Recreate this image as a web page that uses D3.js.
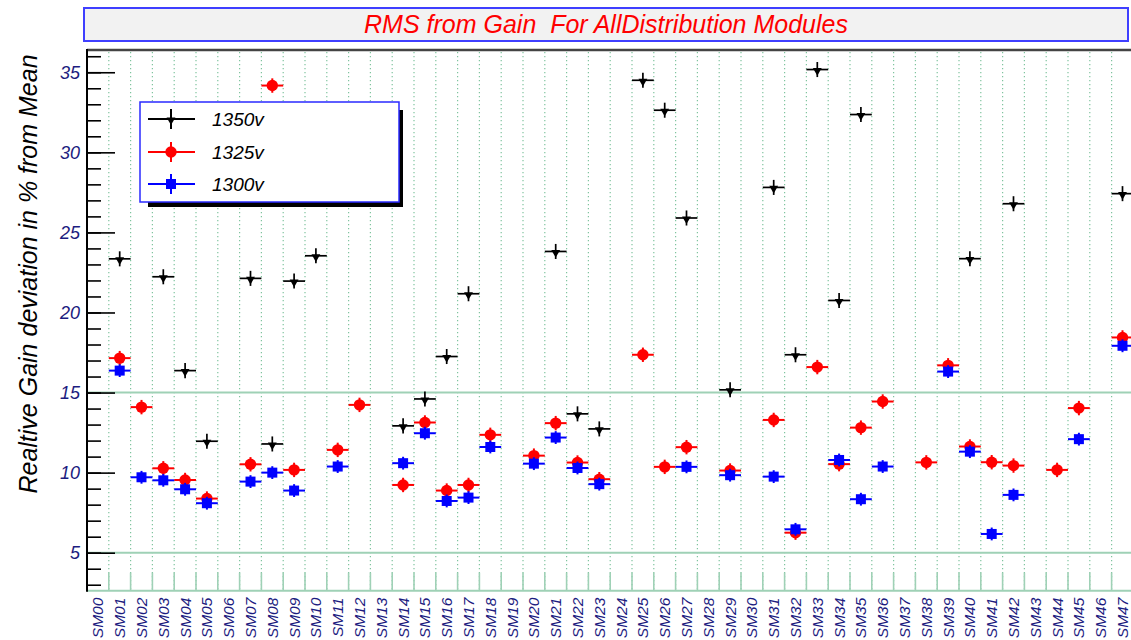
<!DOCTYPE html>
<html><head><meta charset="utf-8">
<script src="https://cdn.jsdelivr.net/npm/d3@7"></script>
<style>
body{margin:0;background:#fff;}
text{font-family:"Liberation Sans",Arial,Helvetica,sans-serif;}
</style>
</head><body><svg id="c" width="1131" height="640"></svg>
<script>
const categories = ["SM00","SM01","SM02","SM03","SM04","SM05","SM06","SM07","SM08","SM09",
  "SM10","SM11","SM12","SM13","SM14","SM15","SM16","SM17","SM18","SM19",
  "SM20","SM21","SM22","SM23","SM24","SM25","SM26","SM27","SM28","SM29",
  "SM30","SM31","SM32","SM33","SM34","SM35","SM36","SM37","SM38","SM39",
  "SM40","SM41","SM42","SM43","SM44","SM45","SM46","SM47"];
const v1350 = [null,23.35,null,22.23,16.37,11.96,null,22.13,11.79,21.96,
  23.54,null,null,null,12.92,14.6,17.25,21.17,null,null,
  null,23.81,13.67,12.73,null,34.5,32.63,25.9,null,15.17,
  null,27.81,17.36,35.17,20.75,32.36,null,null,null,null,
  23.36,null,26.79,null,null,null,null,27.42];
const v1325 = [null,17.15,14.09,10.27,9.54,8.38,null,10.52,34.17,10.17,
  null,11.42,14.23,null,9.23,13.13,8.88,9.23,12.36,null,
  11.06,13.09,10.63,9.59,null,17.36,10.36,11.59,null,10.13,
  null,13.29,6.25,16.59,10.53,12.81,14.44,null,10.64,16.7,
  11.63,10.65,10.44,null,10.17,14.03,null,18.44];
const v1300 = [null,16.37,9.71,9.52,8.96,8.09,null,9.44,10.0,8.88,
  null,10.38,null,null,10.59,12.46,8.23,8.44,11.6,null,
  10.56,12.19,10.29,9.28,null,null,null,10.36,null,9.84,
  null,9.75,6.46,null,10.79,8.34,10.38,null,null,16.31,
  11.31,6.17,8.61,null,null,12.09,null,17.92];
const errs = [0.47, 0.45, 0.4];
const seriesNames = ["1350v","1325v","1300v"];
const seriesColors = ["#000000","#ff0000","#0000ff"];
const yMajorTicks = [5,10,15,20,25,30,35];
const yMinorTicks = [3,4,5,6,7,8,9,10,11,12,13,14,15,16,17,18,19,20,21,22,23,24,25,26,27,28,29,30,31,32,33,34,35,36];
const refLines = [5,15];
const titleText = "RMS from Gain  For AllDistribution Modules";
const yTitle = "Realtive Gain deviation in % from Mean";

(function(){
const svg = d3.select("#c");
const pLeft = 87, pTop = 50, pBottom = 590.7, bw = 21.8;
const x = d3.scaleBand().domain(categories).range([pLeft, pLeft + bw*categories.length]).padding(0);
const y = d3.scaleLinear().domain([2.627, 36.39]).range([pBottom, pTop]);
const green = "#9fd1b6", dotGreen = "#7fc49e";
const pRight = x.range()[1];

// title box
svg.append("rect").attr("x",84).attr("y",8).attr("width",1044).attr("height",33)
  .attr("fill","#f2f2f2").attr("stroke","#3f3fff").attr("stroke-width",2);
svg.append("text").attr("x",606).attr("y",33).attr("text-anchor","middle")
  .style("white-space","pre").attr("font-size",25).attr("font-style","italic")
  .attr("fill","#ff0000").text(titleText);

// dotted grid at bin edges
const edges = categories.slice(1).map(c => x(c));
svg.append("g").selectAll("line").data(edges).join("line")
  .attr("x1",d=>d).attr("x2",d=>d).attr("y1",pTop+2).attr("y2",pBottom)
  .attr("stroke",dotGreen).attr("stroke-width",1.2).attr("stroke-dasharray","1.2,2.8");

// reference horizontal lines
svg.append("g").selectAll("line").data(refLines).join("line")
  .attr("x1",pLeft).attr("x2",pRight).attr("y1",d=>y(d)).attr("y2",d=>y(d))
  .attr("stroke",green).attr("stroke-width",2);

// bottom axis (green) with ticks at bin edges
svg.append("line").attr("x1",pLeft).attr("x2",pRight).attr("y1",pBottom).attr("y2",pBottom)
  .attr("stroke",green).attr("stroke-width",2);
svg.append("g").selectAll("line").data(edges).join("line")
  .attr("x1",d=>d).attr("x2",d=>d).attr("y1",pBottom-18).attr("y2",pBottom)
  .attr("stroke",green).attr("stroke-width",1.6);

// x labels
const xAxis = svg.append("g").attr("transform",`translate(0,${pBottom})`)
  .call(d3.axisBottom(x).tickSize(0).tickPadding(0));
xAxis.select(".domain").remove();
xAxis.selectAll("text").attr("transform","translate(0,7) rotate(-90)")
  .attr("text-anchor","end").attr("dx",0).attr("dy","0.36em").attr("x",0).attr("y",0)
  .attr("font-size",15.5).attr("font-style","italic").attr("fill","#1c1c80")
  .attr("font-family","Liberation Sans, Arial, sans-serif");

// top frame
svg.append("line").attr("x1",pLeft).attr("x2",pRight).attr("y1",pTop).attr("y2",pTop)
  .attr("stroke","#444").attr("stroke-width",2.4);

// y axis ticks
const yMinor = svg.append("g").attr("transform",`translate(${pLeft},0)`)
  .call(d3.axisRight(y).tickValues(yMinorTicks).tickSize(14).tickFormat(""));
const yMajor = svg.append("g").attr("transform",`translate(${pLeft},0)`)
  .call(d3.axisRight(y).tickValues(yMajorTicks).tickSize(28).tickFormat(""));
[yMinor,yMajor].forEach(g=>{ g.select(".domain").remove(); g.selectAll("line").attr("stroke","#000").attr("stroke-width",1.6); });
const yLab = svg.append("g").attr("transform",`translate(${pLeft},0)`)
  .call(d3.axisLeft(y).tickValues(yMajorTicks).tickSize(0).tickPadding(7));
yLab.select(".domain").remove();
yLab.selectAll("text").attr("font-size",18).attr("font-style","italic").attr("fill","#1c1c80")
  .attr("font-family","Liberation Sans, Arial, sans-serif");
svg.append("line").attr("x1",pLeft).attr("x2",pLeft).attr("y1",pTop-1).attr("y2",pBottom+1)
  .attr("stroke","#000").attr("stroke-width",2);

// y title
svg.append("text").attr("transform","translate(37,274) rotate(-90)").attr("text-anchor","middle")
  .attr("font-size",25).attr("font-style","italic").attr("fill","#000").text(yTitle);

// markers
function drawMarker(g, k, cx, cy) {
  if (k === 0) {
    g.append("path").attr("d", d3.symbol(d3.symbolTriangle, 34)())
      .attr("transform",`translate(${cx},${cy+1}) rotate(180)`).attr("fill","#000");
  } else if (k === 1) {
    g.append("circle").attr("cx",cx).attr("cy",cy).attr("r",5.7).attr("fill","#ff0000");
  } else {
    g.append("rect").attr("x",cx-5).attr("y",cy-5).attr("width",10).attr("height",10).attr("fill","#0000ff");
  }
}
[v1350, v1325, v1300].forEach((vals, k) => {
  const g = svg.append("g");
  const col = seriesColors[k];
  vals.forEach((v, i) => {
    if (v === null) return;
    const cat = categories[i];
    const cx = x(cat) + x.bandwidth()/2, cy = y(v);
    g.append("line").attr("x1",x(cat)).attr("x2",x(cat)+x.bandwidth()).attr("y1",cy).attr("y2",cy)
      .attr("stroke",col).attr("stroke-width",k===0?1.7:2);
    g.append("line").attr("x1",cx).attr("x2",cx).attr("y1",y(v-errs[k])).attr("y2",y(v+errs[k]))
      .attr("stroke",col).attr("stroke-width",k===0?1.7:2);
    drawMarker(g, k, cx, cy);
  });
});

// legend
svg.append("rect").attr("x",148).attr("y",110).attr("width",255).attr("height",97).attr("fill","#000");
svg.append("rect").attr("x",140).attr("y",102).attr("width",259).attr("height",100)
  .attr("fill","#fff").attr("stroke","#2a2aff").attr("stroke-width",1.5);
const legY = [119,152,184];
seriesNames.forEach((name,k)=>{
  const g = svg.append("g");
  const col = seriesColors[k], cy = legY[k];
  g.append("line").attr("x1",148).attr("x2",195).attr("y1",cy).attr("y2",cy).attr("stroke",col).attr("stroke-width",2);
  g.append("line").attr("x1",171).attr("x2",171).attr("y1",cy-10).attr("y2",cy+10).attr("stroke",col).attr("stroke-width",2);
  drawMarker(g, k, 171, cy);
  g.append("text").attr("x",212).attr("y",cy+7).attr("font-size",19).attr("font-style","italic")
    .attr("fill","#000").text(name);
});
})();
</script>
</body></html>
